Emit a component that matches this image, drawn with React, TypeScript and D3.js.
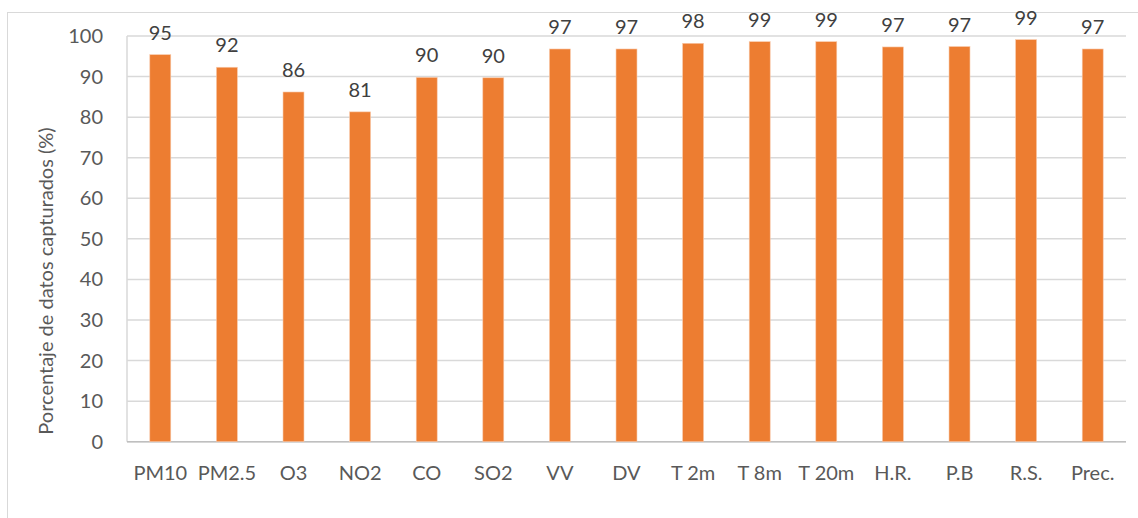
import React from "react";
import * as d3 from "d3";

const categories = ["PM10", "PM2.5", "O3", "NO2", "CO", "SO2", "VV", "DV", "T 2m", "T 8m", "T 20m", "H.R.", "P.B", "R.S.", "Prec."];
const values = [95.4, 92.3, 86.2, 81.3, 89.8, 89.7, 96.8, 96.8, 98.2, 98.6, 98.6, 97.3, 97.4, 99.1, 96.8];
const yTicks = [0, 10, 20, 30, 40, 50, 60, 70, 80, 90, 100];
const yTitle = "Porcentaje de datos capturados (%)";

const W = 1138;
const H = 518;
const left = 127;
const right = 1126;
const top = 36;
const bottom = 441.7;
const FONT = "Lato, 'Open Sans', sans-serif";
const TXT = "#595959";

export default function App() {
  const x = d3.scaleBand<string>().domain(categories).range([left, right]).paddingInner(0.685).paddingOuter(0.3425);
  const y = d3.scaleLinear().domain([0, 100]).range([bottom, top]);
  const fmt = d3.format(".0f");
  return (
    <svg width={W} height={H} style={{ position: "absolute", left: 0, top: 0, background: "#fff" }}>
      <rect x={7.5} y={12.5} width={1200} height={600} fill="#fff" stroke="#D9D9D9" strokeWidth={1} />
      {yTicks.map((t) => (
        <line key={"g" + t} x1={left} x2={right} y1={y(t)} y2={y(t)} stroke="#D9D9D9" strokeWidth={1.5} />
      ))}
      <line x1={left} x2={left} y1={top} y2={bottom} stroke="#D9D9D9" strokeWidth={1.5} />
      <line x1={left} x2={right} y1={bottom} y2={bottom} stroke="#BFBFBF" strokeWidth={1.5} />
      {categories.map((c, i) => (
        <rect key={c} x={x(c)} y={y(values[i])} width={x.bandwidth()} height={bottom - y(values[i])} fill="#ED7D31" stroke="#F8CBAD" strokeWidth={0.6} />
      ))}
      {categories.map((c, i) => (
        <text key={"l" + c} x={(x(c) as number) + x.bandwidth() / 2} y={y(values[i]) - 15} textAnchor="middle" fontFamily={FONT} fontSize={20} fill="#404040">
          {fmt(values[i])}
        </text>
      ))}
      {yTicks.map((t) => (
        <text key={"t" + t} x={103} y={y(t) + 7} textAnchor="end" fontFamily={FONT} fontSize={20} fill={TXT}>
          {t}
        </text>
      ))}
      {categories.map((c) => (
        <text key={"x" + c} x={(x(c) as number) + x.bandwidth() / 2} y={480} textAnchor="middle" fontFamily={FONT} fontSize={20} fill={TXT}>
          {c}
        </text>
      ))}
      <text transform={`translate(53,281) rotate(-90)`} textAnchor="middle" fontFamily={FONT} fontSize={20} fill={TXT}>
        {yTitle}
      </text>
    </svg>
  );
}
